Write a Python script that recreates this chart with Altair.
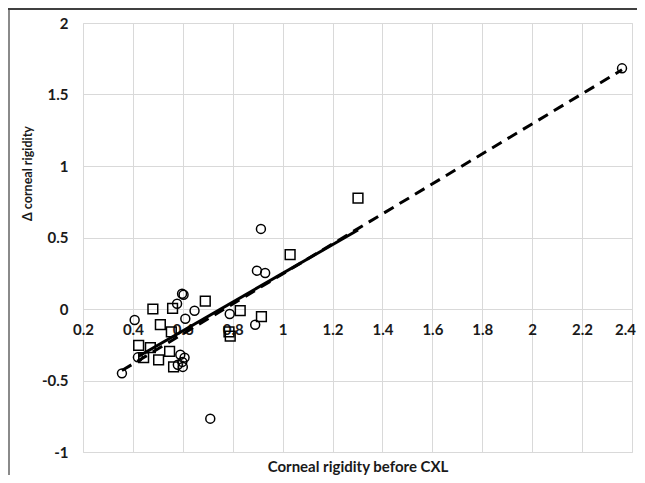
import altair as alt
import pandas as pd

# Series A (circles)
circle_x = [0.356, 0.407, 0.42, 0.577, 0.597, 0.603, 0.61, 0.647, 0.59, 0.607,
            0.598, 0.58, 0.60, 0.71, 0.788, 0.89, 0.897, 0.93, 0.913, 2.36]
circle_y = [-0.45, -0.077, -0.338, 0.037, 0.107, 0.10, -0.068, -0.012, -0.32, -0.34,
            -0.37, -0.39, -0.405, -0.767, -0.035, -0.11, 0.268, 0.252, 0.56, 1.683]
# Series B (squares)
square_x = [0.423, 0.443, 0.47, 0.48, 0.503, 0.51, 0.547, 0.554, 0.559, 0.563,
            0.69, 0.785, 0.79, 0.83, 0.915, 1.03, 1.302]
square_y = [-0.255, -0.34, -0.27, 0.0, -0.355, -0.11, -0.296, -0.16, 0.005, -0.405,
            0.055, -0.16, -0.19, -0.012, -0.054, 0.38, 0.776]

x_ticks = [0.2, 0.4, 0.6, 0.8, 1, 1.2, 1.4, 1.6, 1.8, 2, 2.2, 2.4]
y_ticks = [-1, -0.5, 0, 0.5, 1, 1.5, 2]

df = pd.DataFrame({
    "x": circle_x + square_x,
    "y": circle_y + square_y,
    "series": ["A"] * len(circle_x) + ["B"] * len(square_x),
})

FONT = "Lato"
W, H = 549, 429

xscale = alt.Scale(domain=[0.2, 2.4], nice=False, zero=False)
yscale = alt.Scale(domain=[-1, 2], nice=False, zero=False)

xaxis = alt.Axis(
    values=x_ticks, grid=True, gridColor="#d9d9d9", gridWidth=1,
    domain=False, ticks=False, offset=-H / 3, format="~g",
    labelExpr="replace(datum.label, '\u2212', '-')",
    labelFont=FONT, labelFontSize=15, labelFontWeight="bold", labelColor="#1a1a1a",
    labelPadding=13, labelFlush=False, labelOverlap=False,
    labelOffset={"condition": {"test": "datum.value >= 2.39", "value": -7}, "value": 0},
    title="Corneal rigidity before CXL", titleFont=FONT, titleFontSize=15,
    titleFontWeight="bold", titleColor="#1a1a1a", titleBaseline="middle",
    titleY=157,
)
yaxis = alt.Axis(
    values=y_ticks, grid=True, gridColor="#d9d9d9", gridWidth=1,
    domain=False, ticks=False, format="~g",
    labelExpr="replace(datum.label, '\u2212', '-')",
    labelFont=FONT, labelFontSize=15, labelFontWeight="bold", labelColor="#1a1a1a",
    labelPadding=15, labelFlush=False, labelOverlap=False,
    title="\u0394 corneal rigidity", titleFont=FONT, titleFontSize=12.5,
    titleFontWeight="bold", titleColor="#1a1a1a", titleBaseline="middle",
    titleX=-56, titleY=150, titleAngle=270,
)

base = alt.Chart(df)

points = base.mark_point(filled=False, color="black", strokeWidth=1.5, opacity=1).encode(
    x=alt.X("x:Q", scale=xscale, axis=xaxis),
    y=alt.Y("y:Q", scale=yscale, axis=yaxis),
    shape=alt.Shape("series:N", scale=alt.Scale(domain=["A", "B"], range=["circle", "square"]), legend=None),
    size=alt.Size("series:N", scale=alt.Scale(domain=["A", "B"], range=[80, 95]), legend=None),
)

fit_a = base.transform_filter("datum.series == 'A'").transform_regression("x", "y").mark_line(
    color="black", strokeWidth=3, strokeDash=[11, 7]
).encode(x=alt.X("x:Q", scale=xscale), y=alt.Y("y:Q", scale=yscale))

fit_b = base.transform_filter("datum.series == 'B'").transform_regression("x", "y").mark_line(
    color="black", strokeWidth=3
).encode(x=alt.X("x:Q", scale=xscale), y=alt.Y("y:Q", scale=yscale))

border_left = alt.Chart(pd.DataFrame({"a": [0]})).mark_rule(color="#8a8a8a", strokeWidth=2).encode(
    x=alt.value(-74), y=alt.value(-16), y2=alt.value(H + 40)
)
border_top = alt.Chart(pd.DataFrame({"a": [0]})).mark_rule(color="#404040", strokeWidth=2).encode(
    x=alt.value(-75), x2=alt.value(W + 20), y=alt.value(-14)
)

chart = alt.layer(points, fit_b, fit_a, border_left, border_top).properties(
    width=W, height=H,
    padding={"left": 75, "top": 15, "right": 5, "bottom": 23},
    autosize=alt.AutoSizeParams(type="none"),
).configure_view(stroke=None).configure(background="white")

chart.save("out.html", embed_options={"renderer": "svg", "actions": False})
